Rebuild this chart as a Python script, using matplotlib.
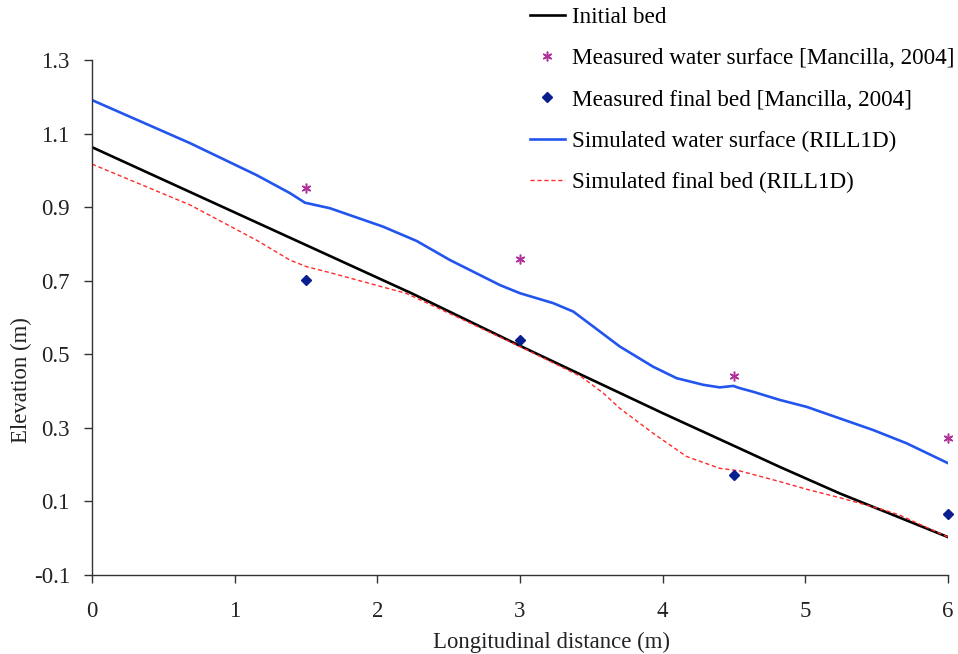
import matplotlib
matplotlib.use("Agg")
import matplotlib.pyplot as plt

plt.rcParams['font.family'] = ['Liberation Serif', 'DejaVu Serif']
plt.rcParams['axes.unicode_minus'] = False

# Initial bed
bed_x = [0, 0.75, 1.5, 2.25, 3.0, 3.42, 4.0, 4.54, 4.82, 5.24, 6.0]
bed_y = [1.063, 0.930, 0.797, 0.664, 0.523, 0.446, 0.340, 0.244, 0.194, 0.122, 0.003]

# Simulated water surface (RILL1D)
ws_x = [0, 0.687, 1.154, 1.388, 1.493, 1.668, 2.04, 2.276, 2.51, 2.86, 3.0, 3.233, 3.374,
        3.467, 3.70, 3.934, 4.098, 4.285, 4.40, 4.495, 4.54, 4.635, 4.82, 5.01, 5.476, 5.71, 6.0]
ws_y = [1.191, 1.074, 0.987, 0.938, 0.912, 0.897, 0.847, 0.808, 0.756, 0.688, 0.666, 0.639, 0.616,
        0.589, 0.521, 0.466, 0.435, 0.417, 0.410, 0.414, 0.408, 0.398, 0.376, 0.357, 0.294, 0.258, 0.204]

# Simulated final bed (RILL1D)
fb_x = [0, 0.687, 1.154, 1.388, 1.505, 1.668, 1.81, 2.16, 2.2, 2.6, 3.0, 3.43, 3.585, 3.70,
        3.934, 4.168, 4.40, 4.54, 4.82, 5.01, 5.243, 5.55, 5.66, 6.0]
fb_y = [1.017, 0.906, 0.810, 0.756, 0.738, 0.722, 0.707, 0.670, 0.666, 0.594, 0.521, 0.439, 0.394, 0.353,
        0.285, 0.222, 0.190, 0.183, 0.154, 0.133, 0.110, 0.077, 0.063, 0.003]

# Measured data [Mancilla, 2004]
meas_x = [1.5, 3.0, 4.5, 6.0]
meas_ws = [0.951, 0.759, 0.440, 0.272]
meas_bed = [0.701, 0.538, 0.171, 0.065]

yticks = [-0.1, 0.1, 0.3, 0.5, 0.7, 0.9, 1.1, 1.3]
ytick_labels = ['-0.1', '0.1', '0.3', '0.5', '0.7', '0.9', '1.1', '1.3']
xticks = [0, 1, 2, 3, 4, 5, 6]

fig = plt.figure(figsize=(9.58, 6.54), dpi=100)
ax = fig.add_axes([92/958, 1-575/654, (948-92)/958, (575-60)/654])

l1, = ax.plot(bed_x, bed_y, color='black', lw=1.9, label='Initial bed')
l4, = ax.plot(ws_x, ws_y, color='#2255ee', lw=1.9, label='Simulated water surface (RILL1D)')
l5, = ax.plot(fb_x, fb_y, color='#ff2a2a', lw=1.0, dashes=(3, 2), label='Simulated final bed (RILL1D)')
l2, = ax.plot(meas_x, meas_ws, ls='none', marker=(6, 2, 0), ms=7, mew=1.1, color='#b0309a',
              label='Measured water surface [Mancilla, 2004]', clip_on=False)
l3, = ax.plot(meas_x, meas_bed, ls='none', marker='D', ms=5.5, color='#0a1f8f',
              label='Measured final bed [Mancilla, 2004]', clip_on=False)

ax.set_xlim(0, 6)
ax.set_ylim(-0.1, 1.3)
ax.set_xticks(xticks)
ax.set_yticks(yticks)
ax.set_yticklabels(ytick_labels)
for s in ['top', 'right']:
    ax.spines[s].set_visible(False)
for s in ['left', 'bottom']:
    ax.spines[s].set_linewidth(1.0)
    ax.spines[s].set_color('#333333')
ax.tick_params(axis='both', direction='out', length=6, width=1.0, colors='#333333',
               labelsize=16.5, labelcolor='#222222')
ax.tick_params(axis='y', pad=10)
ax.tick_params(axis='x', pad=13)

ax.set_xlabel('Longitudinal distance (m)', fontsize=16.4, color='#222222', va='top')
ax.xaxis.set_label_coords((551.5-92)/856, (575-632)/515)
ax.set_ylabel('Elevation (m)', fontsize=16.4, color='#222222', va='center')
ax.yaxis.set_label_coords((21-92)/856, (575-380)/515)

handles = [l1, l2, l3, l4, l5]
fig.legend(handles=handles, labels=[h.get_label() for h in handles],
           loc='upper left', bbox_to_anchor=(530/958, 1 - 7/654), frameon=False,
           fontsize=16.7, handlelength=1.5, handletextpad=0.3, labelspacing=0.86,
           borderaxespad=0, borderpad=0)

fig.savefig('out.png', dpi=100)
